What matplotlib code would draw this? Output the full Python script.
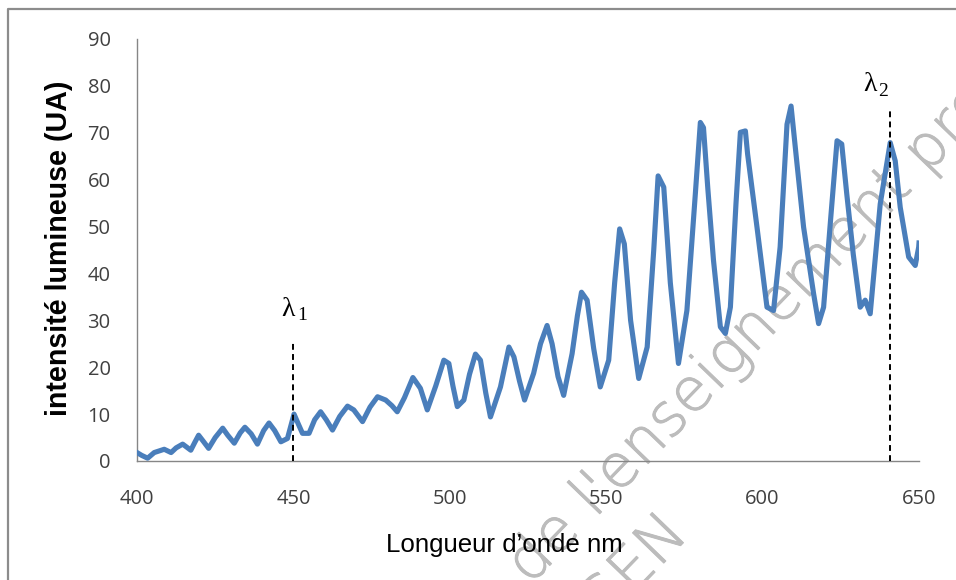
import matplotlib
matplotlib.use('Agg')
import matplotlib.pyplot as plt
from matplotlib.lines import Line2D
import matplotlib.patheffects as pe

# spectrum (nm, UA)
wavelength = [400.0, 401.5, 403.4, 405.5, 408.7, 410.9, 412.5, 414.6, 417.2, 418.5,
              419.7, 421.2, 422.9, 425.0, 427.4, 429.0, 431.1, 433.0, 434.5, 436.5,
              438.5, 440.5, 442.2, 444.0, 446.0, 448.1, 450.2, 451.5, 452.9, 455.0,
              456.8, 458.7, 460.5, 462.5, 464.8, 467.3, 469.3, 472.1, 474.5, 476.9,
              479.5, 481.5, 483.2, 485.5, 488.2, 490.6, 492.8, 495.5, 498.1, 499.7,
              501.0, 502.4, 504.5, 506.3, 508.2, 509.8, 511.5, 513.0, 516.2, 518.9,
              520.5, 522.3, 523.9, 526.8, 529.0, 531.1, 532.7, 534.6, 536.4, 539.1,
              540.8, 542.1, 543.9, 546.0, 548.1, 550.8, 552.7, 554.3, 555.8, 557.8,
              560.4, 563.1, 565.2, 566.6, 568.4, 570.5, 573.1, 575.8, 578.5, 580.1,
              581.1, 582.5, 584.3, 586.5, 588.1, 589.7, 591.5, 592.9, 594.5, 595.2,
              598.2, 601.4, 603.5, 605.6, 607.8, 609.1, 610.9, 613.1, 616.3, 617.9,
              619.5, 621.8, 623.8, 625.3, 626.9, 629.0, 631.2, 632.8, 634.4, 637.6,
              640.8, 642.4, 644.0, 646.7, 648.8, 649.9, 650.0]
intensity = [1.8, 1.2, 0.6, 1.8, 2.5, 1.8, 2.8, 3.6, 2.3, 4.0,
             5.5, 4.2, 2.7, 5.0, 7.0, 5.5, 3.8, 6.0, 7.2, 5.8,
             3.6, 6.5, 8.1, 6.5, 4.1, 4.8, 10.0, 8.0, 5.9, 5.9,
             8.8, 10.5, 8.8, 6.6, 9.5, 11.7, 10.9, 8.4, 11.5, 13.7,
             13.0, 11.8, 10.5, 13.5, 17.8, 15.5, 10.9, 16.0, 21.5, 20.8,
             16.0, 11.6, 13.0, 18.5, 22.8, 21.5, 14.5, 9.4, 15.8, 24.3,
             22.2, 17.0, 13.0, 18.7, 25.0, 28.9, 25.0, 18.0, 14.0, 22.9,
             31.0, 36.0, 34.3, 24.0, 15.8, 21.5, 38.0, 49.5, 46.3, 30.0,
             17.6, 24.3, 45.0, 60.8, 58.4, 38.0, 20.8, 32.1, 57.0, 72.2,
             71.1, 58.0, 42.8, 28.6, 27.2, 32.8, 55.0, 70.1, 70.4, 65.5,
             49.9, 32.8, 32.1, 45.6, 71.8, 75.7, 64.0, 49.9, 35.7, 29.3,
             32.8, 52.0, 68.3, 67.6, 57.0, 44.0, 32.8, 34.3, 31.4, 54.8,
             67.9, 64.0, 54.1, 43.5, 41.7, 45.6, 46.5]

x_ticks = [400, 450, 500, 550, 600, 650]
y_ticks = [0, 10, 20, 30, 40, 50, 60, 70, 80, 90]
markers = [450, 640.7]
marker_tops = [25.5, 75]
marker_subs = ['1', '2']
marker_label_pos = [(448.4, 32.4), (634.2, 80.2)]

fig = plt.figure(figsize=(9.56, 5.8), dpi=100, facecolor='white')
W, H = 956, 580
ax = fig.add_axes([137/W, 1 - 461/H, (919 - 137)/W, (461 - 39)/H])
ax.set_facecolor('none')

ax.plot(wavelength, intensity, color='#4a7ebb', lw=3.7, solid_joinstyle='round', zorder=3)

for xm, top in zip(markers, marker_tops):
    ax.plot([xm, xm], [0, top], color='black', lw=1.4, ls=(0, (3, 2.2)), zorder=4)
for sub, (lx, ly) in zip(marker_subs, marker_label_pos):
    ax.text(lx, ly, '\u03bb', fontsize=20, family='Liberation Serif', ha='center', va='center', color='black')
    ax.annotate(sub, (lx, ly), xytext=(10, -4.5), textcoords='offset points', fontsize=14,
                family='Liberation Serif', ha='center', va='center', color='black')

ax.set_xlim(400, 650)
ax.set_ylim(0, 90)
ax.set_xticks(x_ticks)
ax.set_yticks(y_ticks)
for s in ['top', 'right']:
    ax.spines[s].set_visible(False)
for s in ['left', 'bottom']:
    ax.spines[s].set_color('#868686')
    ax.spines[s].set_linewidth(1.0)
ax.tick_params(axis='both', length=0, labelsize=14.5, colors='#404040')
ax.tick_params(axis='y', pad=19)
ax.tick_params(axis='x', pad=20)
for t in ax.get_xticklabels() + ax.get_yticklabels():
    t.set_fontfamily('Open Sans')

fig.text(59.5/W, 1 - 248.5/H, 'intensité lumineuse (UA)', rotation=90, ha='center', va='center',
         fontsize=20.6, fontweight='bold', family='Liberation Sans', color='black')
fig.text(504/W, 1 - 545/H, 'Longueur d\u2019onde nm', ha='center', va='center',
         fontsize=18.6, family='Liberation Sans', color='black')

# frame (only left and top edges are inside the crop)
fig.add_artist(Line2D([8/W, 8/W, 1.01], [-0.01, 1 - 9/H, 1 - 9/H], color='#8c8c8c', lw=1.6,
                      transform=fig.transFigure))

# watermark, partly outside the crop like in the source
wm = dict(rotation=46, rotation_mode='anchor', fontsize=43, family='DejaVu Sans',
          fontweight='ultralight', color='#bcbcbc', zorder=-1,
          path_effects=[pe.withStroke(linewidth=0.7, foreground='#bcbcbc')])
fig.text(530/W, 1 - 586/H, "de l'enseignement professionnel", ha='left', va='baseline', **wm)
fig.text(690/W, 1 - 536/H, "DGESCO-IGEN", ha='right', va='baseline', **wm)

fig.savefig('out.png', dpi=100)
